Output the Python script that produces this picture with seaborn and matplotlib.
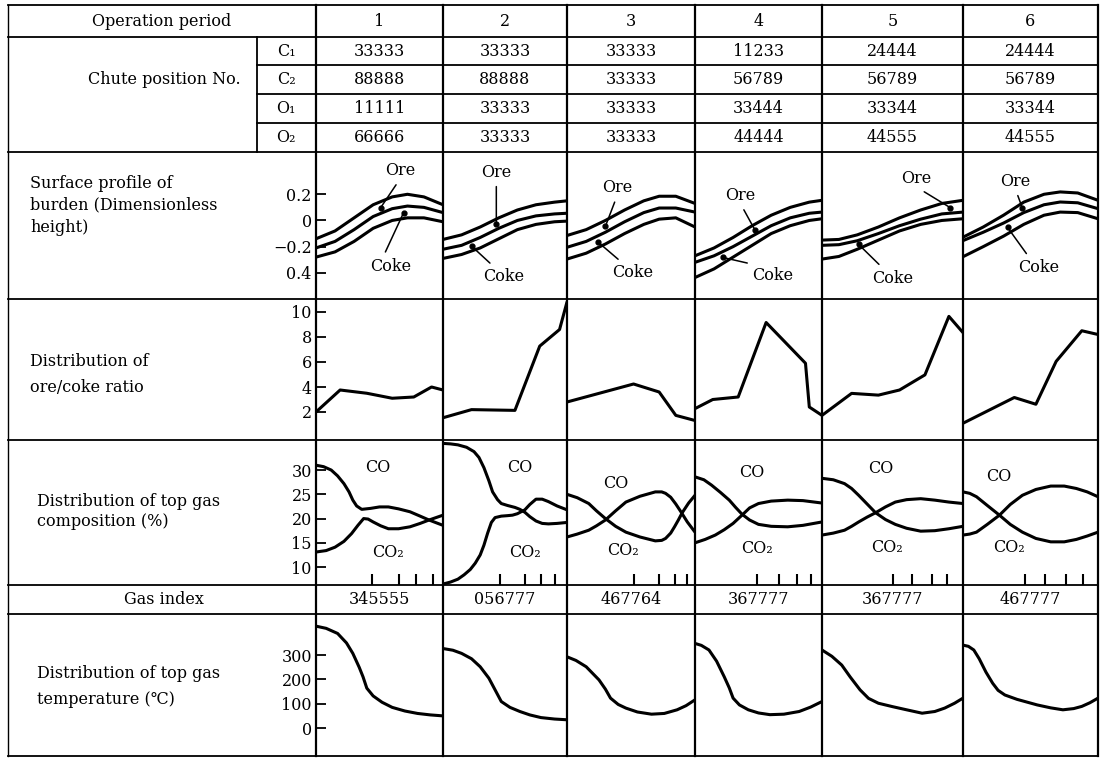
import numpy as np
import pandas as pd
import matplotlib
matplotlib.use("Agg")
import matplotlib.pyplot as plt
import seaborn as sns

# ---------------- data ----------------
periods = ["1", "2", "3", "4", "5", "6"]
chute_rows = ["C₁", "C₂", "O₁", "O₂"]
chute_c1 = ["33333", "33333", "33333", "11233", "24444", "24444"]
chute_c2 = ["88888", "88888", "33333", "56789", "56789", "56789"]
chute_o1 = ["11111", "33333", "33333", "33444", "33344", "33344"]
chute_o2 = ["66666", "33333", "33333", "44444", "44555", "44555"]
gas_index = ["345555", "056777", "467764", "367777", "367777", "467777"]

row_labels = [["Surface profile of", "burden (Dimensionless", "height)"],
              ["Distribution of", "ore/coke ratio"],
              ["Distribution of top gas", "composition (%)"],
              ["Distribution of top gas", "temperature (℃)"]]

# surface profile of burden (dimensionless height), radial position 0..1
surf_x = [[0, 0.15, 0.3, 0.45, 0.6, 0.72, 0.85, 1.0],
          [0, 0.15, 0.3, 0.45, 0.6, 0.75, 0.9, 1.0],
          [0, 0.15, 0.3, 0.45, 0.6, 0.72, 0.85, 1.0],
          [0, 0.15, 0.3, 0.45, 0.6, 0.75, 0.9, 1.0],
          [0, 0.12, 0.25, 0.4, 0.55, 0.7, 0.85, 1.0],
          [0, 0.15, 0.3, 0.45, 0.6, 0.72, 0.85, 1.0]]
surf_top = [[-0.14, -0.08, 0.02, 0.12, 0.18, 0.20, 0.18, 0.12],
            [-0.145, -0.11, -0.05, 0.02, 0.08, 0.12, 0.14, 0.15],
            [-0.115, -0.07, 0.0, 0.08, 0.15, 0.185, 0.185, 0.13],
            [-0.27, -0.21, -0.13, -0.04, 0.04, 0.10, 0.14, 0.154],
            [-0.15, -0.145, -0.11, -0.05, 0.02, 0.08, 0.13, 0.154],
            [-0.128, -0.05, 0.04, 0.14, 0.20, 0.218, 0.21, 0.154]]
surf_mid = [[-0.21, -0.16, -0.07, 0.03, 0.09, 0.11, 0.10, 0.06],
            [-0.22, -0.19, -0.13, -0.06, 0.0, 0.035, 0.05, 0.055],
            [-0.205, -0.16, -0.09, -0.01, 0.06, 0.095, 0.095, 0.064],
            [-0.32, -0.27, -0.20, -0.12, -0.04, 0.02, 0.055, 0.064],
            [-0.19, -0.185, -0.155, -0.10, -0.04, 0.01, 0.05, 0.064],
            [-0.154, -0.09, -0.02, 0.06, 0.12, 0.141, 0.135, 0.09]]
surf_bot = [[-0.28, -0.24, -0.16, -0.06, 0.0, 0.02, 0.02, -0.01],
            [-0.29, -0.26, -0.21, -0.14, -0.07, -0.03, -0.01, -0.005],
            [-0.295, -0.25, -0.18, -0.10, -0.03, 0.01, 0.02, -0.05],
            [-0.436, -0.37, -0.28, -0.19, -0.10, -0.04, 0.0, 0.013],
            [-0.295, -0.275, -0.22, -0.15, -0.08, -0.03, 0.0, 0.013],
            [-0.277, -0.20, -0.12, -0.03, 0.04, 0.064, 0.06, 0.013]]

# ore/coke ratio
oc_x = [[0, 0.19, 0.4, 0.6, 0.77, 0.91, 1.0],
        [0, 0.23, 0.58, 0.78, 0.94, 1.0],
        [0, 0.52, 0.72, 0.85, 1.0],
        [0, 0.14, 0.34, 0.56, 0.87, 0.9, 1.0],
        [0, 0.21, 0.4, 0.55, 0.73, 0.9, 1.0],
        [0, 0.38, 0.54, 0.69, 0.88, 1.0]]
oc_v = [[2.0, 3.76, 3.5, 3.1, 3.2, 4.0, 3.76],
        [1.54, 2.19, 2.13, 7.27, 8.6, 10.8],
        [2.8, 4.24, 3.6, 1.73, 1.32],
        [2.27, 3.0, 3.2, 9.16, 5.9, 2.4, 1.73],
        [1.73, 3.49, 3.35, 3.76, 4.97, 9.65, 8.35],
        [1.1, 3.16, 2.62, 6.05, 8.5, 8.2]]

# top gas composition (%)
co_x = [[0, 0.06, 0.12, 0.17, 0.22, 0.26, 0.29, 0.32, 0.36, 0.43, 0.5, 0.57, 0.65, 0.74, 0.82, 0.89, 0.95, 1.0],
        [0, 0.06, 0.12, 0.19, 0.25, 0.29, 0.33, 0.37, 0.40, 0.44, 0.47, 0.52, 0.58, 0.62, 0.66, 0.7, 0.75, 0.8, 0.85, 0.92, 1.0],
        [0, 0.08, 0.17, 0.23, 0.3, 0.38, 0.46, 0.57, 0.69, 0.74, 0.77, 0.81, 0.84, 0.87, 0.9, 0.95, 1.0],
        [0, 0.07, 0.13, 0.2, 0.27, 0.32, 0.37, 0.43, 0.5, 0.6, 0.73, 0.85, 1.0],
        [0, 0.08, 0.16, 0.21, 0.26, 0.32, 0.38, 0.45, 0.52, 0.6, 0.70, 0.8, 0.9, 1.0],
        [0, 0.05, 0.1, 0.18, 0.27, 0.35, 0.44, 0.54, 0.65, 0.75, 0.84, 0.92, 1.0]]
co_v = [[31.0, 30.7, 30.0, 28.8, 27.2, 25.5, 23.8, 22.6, 21.9, 22.1, 22.4, 22.4, 22.0, 21.4, 20.5, 19.7, 19.1, 18.6],
        [35.5, 35.4, 35.2, 34.7, 33.8, 32.6, 30.5, 27.8, 25.5, 23.9, 23.1, 22.7, 22.3, 21.9, 21.3, 20.4, 19.5, 19.0, 18.9, 19.0, 19.2],
        [25.0, 24.3, 23.1, 21.6, 20.0, 18.4, 17.2, 16.2, 15.4, 15.5, 15.9, 17.0, 18.3, 19.7, 21.2, 23.2, 24.8],
        [28.6, 28.0, 26.9, 25.4, 23.8, 22.3, 20.9, 19.7, 18.8, 18.4, 18.3, 18.6, 19.3],
        [28.3, 28.0, 27.2, 26.2, 24.8, 23.0, 21.2, 19.8, 18.8, 18.0, 17.4, 17.5, 17.9, 18.4],
        [25.5, 25.2, 24.5, 22.7, 20.7, 18.8, 17.2, 15.9, 15.2, 15.2, 15.7, 16.4, 17.2]]
co2_x = [[0, 0.08, 0.15, 0.22, 0.28, 0.33, 0.375, 0.41, 0.45, 0.51, 0.57, 0.65, 0.74, 0.82, 0.89, 1.0],
         [0, 0.06, 0.12, 0.17, 0.22, 0.26, 0.3, 0.33, 0.36, 0.39, 0.42, 0.47, 0.52, 0.56, 0.6, 0.66, 0.7, 0.75, 0.8, 0.85, 0.92, 1.0],
         [0, 0.08, 0.17, 0.23, 0.3, 0.38, 0.46, 0.57, 0.69, 0.74, 0.77, 0.81, 0.85, 0.89, 0.94, 1.0],
         [0, 0.08, 0.16, 0.23, 0.3, 0.37, 0.43, 0.5, 0.6, 0.73, 0.85, 1.0],
         [0, 0.08, 0.16, 0.21, 0.26, 0.32, 0.38, 0.45, 0.52, 0.6, 0.70, 0.8, 0.9, 1.0],
         [0, 0.05, 0.1, 0.18, 0.27, 0.35, 0.44, 0.54, 0.65, 0.75, 0.84, 0.92, 1.0]]
co2_v = [[13.1, 13.4, 14.1, 15.3, 16.9, 18.6, 20.0, 19.9, 19.3, 18.5, 17.9, 17.9, 18.3, 19.0, 19.7, 20.7],
         [6.5, 6.9, 7.5, 8.4, 9.5, 10.8, 12.5, 14.5, 17.0, 19.2, 20.2, 20.5, 20.6, 20.7, 21.0, 21.8, 22.9, 24.0, 24.0, 23.5, 22.6, 21.8],
         [16.2, 16.8, 17.6, 18.5, 19.7, 21.6, 23.4, 24.6, 25.5, 25.5, 25.2, 24.4, 23.0, 21.4, 19.3, 17.2],
         [15.0, 15.7, 16.6, 17.7, 19.0, 20.7, 22.2, 23.1, 23.6, 23.8, 23.7, 23.2],
         [16.6, 17.0, 17.6, 18.4, 19.3, 20.3, 21.2, 22.4, 23.4, 23.9, 24.1, 23.8, 23.4, 23.1],
         [16.6, 16.8, 17.2, 18.8, 20.7, 22.9, 24.8, 26.0, 26.7, 26.7, 26.2, 25.5, 24.5]]
gas_probe_x = [[0.44, 0.65, 0.79, 0.92],
               [0.46, 0.66, 0.79, 0.90],
               [0.52, 0.72, 0.84, 0.94],
               [0.49, 0.66, 0.80, 0.91],
               [0.50, 0.64, 0.78, 0.89],
               [0.46, 0.61, 0.76, 0.89]]

# top gas temperature (deg C)
temp_x = [[0, 0.08, 0.17, 0.24, 0.29, 0.34, 0.37, 0.40, 0.45, 0.52, 0.6, 0.7, 0.8, 0.9, 1.0],
          [0, 0.08, 0.15, 0.23, 0.3, 0.37, 0.42, 0.47, 0.54, 0.62, 0.7, 0.79, 0.9, 1.0],
          [0, 0.07, 0.15, 0.25, 0.30, 0.34, 0.40, 0.46, 0.55, 0.66, 0.76, 0.86, 0.93, 1.0],
          [0, 0.05, 0.11, 0.17, 0.23, 0.27, 0.3, 0.35, 0.42, 0.5, 0.59, 0.7, 0.82, 0.91, 1.0],
          [0, 0.07, 0.14, 0.2, 0.27, 0.33, 0.4, 0.5, 0.6, 0.71, 0.8, 0.87, 0.94, 1.0],
          [0, 0.04, 0.08, 0.12, 0.17, 0.22, 0.26, 0.31, 0.4, 0.55, 0.65, 0.74, 0.82, 0.88, 0.94, 1.0]]
temp_v = [[419, 410, 389, 350, 307, 250, 211, 164, 132, 106, 85, 70, 60, 54, 50],
          [327, 320, 307, 285, 252, 205, 157, 109, 85, 68, 54, 43, 37, 34],
          [293, 278, 252, 198, 160, 123, 97, 82, 66, 57, 60, 75, 92, 116],
          [348, 340, 321, 275, 211, 165, 123, 95, 75, 62, 55, 57, 68, 86, 109],
          [321, 295, 259, 210, 157, 122, 102, 88, 75, 61, 68, 82, 102, 123],
          [341, 336, 321, 285, 230, 184, 155, 136, 118, 95, 83, 75, 80, 89, 104, 123]]

# ---------------- style / layout ----------------
sns.set_theme(style="white")
plt.rcParams["font.family"] = ["DejaVu Serif", "DejaVu Sans"]
plt.rcParams["mathtext.fontset"] = "dejavuserif"
plt.rcParams["text.color"] = "black"
plt.rcParams["axes.labelcolor"] = "black"
plt.rcParams["xtick.color"] = "black"
plt.rcParams["ytick.color"] = "black"

W, H = 1104, 758
FS = 11.5
LW = 2.2
fig = plt.figure(figsize=(W / 100, H / 100), dpi=100)
fig.patch.set_facecolor("white")
bg = fig.add_axes([0, 0, 1, 1])
bg.set_xlim(0, W)
bg.set_ylim(H, 0)
bg.axis("off")

XL, XS, XR = 8, 257, 1098
cols = [316, 443, 567, 695, 822, 963, 1098]
Y_TOP, Y_HDR = 5, 37
chute_y = [37, 65, 94, 123, 152]
rows = [(152, 299), (299, 440), (440, 585), (614, 756)]

def rule(x0, y0, x1, y1, lw=1.3):
    bg.plot([x0, x1], [y0, y1], color="black", lw=lw, solid_capstyle="projecting")

for y in [Y_TOP, Y_HDR, 152, 299, 440, 585, 614, 756]:
    rule(XL, y, XR, y)
for y in chute_y[1:-1]:
    rule(XS, y, XR, y)
rule(XL, Y_TOP, XL, 756, lw=1.0)
rule(XS, Y_HDR, XS, 152)
for x in cols:
    rule(x, Y_TOP, x, 756, lw=1.6)

centers = [(cols[i] + cols[i + 1]) / 2 for i in range(6)]
bg.text(162, 21, "Operation period", ha="center", va="center", fontsize=FS)
for c, p in zip(centers, periods):
    bg.text(c, 21, p, ha="center", va="center", fontsize=FS)
bg.text(164, 79, "Chute position No.", ha="center", va="center", fontsize=FS)
for k, (lab, vals) in enumerate(zip(chute_rows, [chute_c1, chute_c2, chute_o1, chute_o2])):
    yc = (chute_y[k] + chute_y[k + 1]) / 2
    bg.text(286, yc, lab, ha="center", va="center", fontsize=FS)
    for c, v in zip(centers, vals):
        bg.text(c, yc, v, ha="center", va="center", fontsize=FS)
bg.text(164, 600, "Gas index", ha="center", va="center", fontsize=FS)
for c, v in zip(centers, gas_index):
    bg.text(c, 600, v, ha="center", va="center", fontsize=FS)

label_pos = [(30, [183, 205, 227]), (30, [361, 387]), (37, [501, 521]), (37, [674, 700])]
for (lx, ys), lines in zip(label_pos, row_labels):
    for yy, t in zip(ys, lines):
        bg.text(lx, yy, t, ha="left", va="center", fontsize=FS)

ylims = [(-0.6, 0.523), (-0.24, 11.04), (6.3, 36.2), (-115, 469)]
yticks = [[0.2, 0, -0.2, -0.4], [10, 8, 6, 4, 2], [30, 25, 20, 15, 10], [300, 200, 100, 0]]
yticklabels = [["0.2", "0", "−0.2", "0.4"], ["10", "8", "6", "4", "2"],
               ["30", "25", "20", "15", "10"], ["300", "200", "100", "0"]]

# annotation layout: (text x, text y, target x) per column
ore_ann = [(0.66, 0.38, 0.51), (0.43, 0.37, 0.43), (0.39, 0.25, 0.30),
           (0.36, 0.19, 0.47), (0.67, 0.32, 0.91), (0.39, 0.30, 0.44)]
coke_ann = [(0.59, -0.35, 0.69), (0.49, -0.43, 0.23), (0.51, -0.40, 0.24),
            (0.61, -0.42, 0.22), (0.50, -0.44, 0.26), (0.56, -0.36, 0.33)]
co_lab = [(0.39, 30.6), (0.52, 30.6), (0.28, 27.3), (0.35, 29.6), (0.33, 30.4), (0.17, 28.6)]
co2_lab = [(0.44, 12.9), (0.53, 12.9), (0.31, 13.5), (0.36, 13.9), (0.35, 14.1), (0.22, 14.1)]


def make_ax(ci, ri):
    x0, x1 = cols[ci], cols[ci + 1]
    y0, y1 = rows[ri]
    ax = fig.add_axes([x0 / W, 1 - y1 / H, (x1 - x0) / W, (y1 - y0) / H])
    ax.set_facecolor("none")
    for s in ax.spines.values():
        s.set_visible(False)
    ax.set_xlim(0, 1)
    ax.set_ylim(*ylims[ri])
    ax.set_xticks([])
    if ci == 0:
        ax.set_yticks(yticks[ri])
        ax.set_yticklabels(yticklabels[ri])
        ax.tick_params(axis="y", direction="in", length=7, width=1.3, pad=3,
                       labelsize=FS, left=True, colors="black")
    else:
        ax.set_yticks([])
    return ax


def line(ax, x, y):
    sns.lineplot(x=np.asarray(x, float), y=np.asarray(y, float), ax=ax, color="black",
                 lw=LW, estimator=None, sort=False)
    ax.set_xlabel("")
    ax.set_ylabel("")


for ci in range(6):
    # surface profile
    ax = make_ax(ci, 0)
    for arr in (surf_top, surf_mid, surf_bot):
        line(ax, surf_x[ci], arr[ci])
    tx, ty, gx = ore_ann[ci]
    gy = (np.interp(gx, surf_x[ci], surf_top[ci]) + np.interp(gx, surf_x[ci], surf_mid[ci])) / 2
    ax.annotate("Ore", xy=(gx, gy), xytext=(tx, ty), ha="center", va="center", fontsize=FS,
                arrowprops=dict(arrowstyle="-", color="black", lw=1.1, relpos=(0.5, 0.0),
                                shrinkA=2, shrinkB=0))
    ax.plot([gx], [gy], "o", color="black", ms=3.5)
    tx, ty, gx = coke_ann[ci]
    gy = (np.interp(gx, surf_x[ci], surf_mid[ci]) + np.interp(gx, surf_x[ci], surf_bot[ci])) / 2
    ax.annotate("Coke", xy=(gx, gy), xytext=(tx, ty), ha="center", va="center", fontsize=FS,
                arrowprops=dict(arrowstyle="-", color="black", lw=1.1, relpos=(0.3, 1.0),
                                shrinkA=2, shrinkB=0))
    ax.plot([gx], [gy], "o", color="black", ms=3.5)

    # ore/coke ratio
    ax = make_ax(ci, 1)
    line(ax, oc_x[ci], oc_v[ci])

    # gas composition
    ax = make_ax(ci, 2)
    line(ax, co_x[ci], co_v[ci])
    line(ax, co2_x[ci], co2_v[ci])
    ax.text(*co_lab[ci], "CO", ha="left", va="center", fontsize=FS)
    ax.text(*co2_lab[ci], "CO₂", ha="left", va="center", fontsize=FS)
    ax.set_xticks(gas_probe_x[ci])
    ax.set_xticklabels([])
    ax.tick_params(axis="x", direction="in", length=8, width=1.5, bottom=True, colors="black")

    # temperature
    ax = make_ax(ci, 3)
    line(ax, temp_x[ci], temp_v[ci])

fig.savefig("out.png", dpi=100, facecolor="white")
